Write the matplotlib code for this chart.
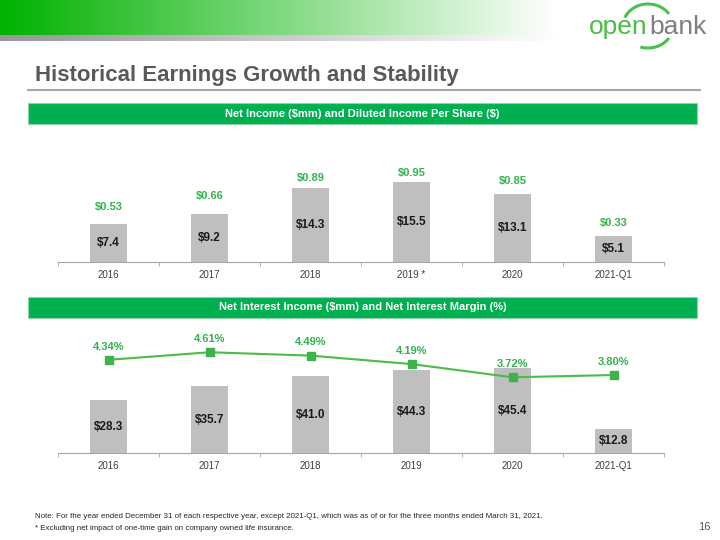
import numpy as np
import matplotlib
matplotlib.use('Agg')
import matplotlib.pyplot as plt
from matplotlib.patches import Rectangle, Arc

plt.rcParams['font.family'] = ['Liberation Sans', 'DejaVu Sans']

# data
years_ni = ['2016', '2017', '2018', '2019 *', '2020', '2021-Q1']
net_income = [7.4, 9.2, 14.3, 15.5, 13.1, 5.1]
eps = [0.53, 0.66, 0.89, 0.95, 0.85, 0.33]

years_nii = ['2016', '2017', '2018', '2019', '2020', '2021-Q1']
net_interest_income = [28.3, 35.7, 41.0, 44.3, 45.4, 12.8]
nim = [4.34, 4.61, 4.49, 4.19, 3.72, 3.80]

W, H = 720, 540
GREEN_HDR = '#00b050'
GREEN_TXT = '#33b34d'
BAR_GRAY = '#bfbfbf'


def px(x0, y0, x1, y1):
    # pixel box (top-left origin) -> figure fraction rect
    return [x0 / W, 1 - y1 / H, (x1 - x0) / W, (y1 - y0) / H]


fig = plt.figure(figsize=(7.2, 5.4), dpi=100)

# top banner gradient
ban = fig.add_axes(px(0, 0, 720, 41))
img = np.ones((41, 720, 3))
xs = np.arange(720)
t = np.clip(xs / 555.0, 0, 1)
green = np.array([0, 178, 0]) / 255.0
for c in range(3):
    img[:35, :, c] = green[c] * (1 - t) + t
tg = np.clip(xs / 560.0, 0, 1)
gray = np.array([150, 150, 150]) / 255.0
for c in range(3):
    img[35:, :, c] = gray[c] * (1 - tg) + tg
ban.imshow(img, aspect='auto', interpolation='bilinear')
ban.axis('off')

# logo
logo = fig.add_axes(px(570, 0, 720, 60))
logo.set_xlim(570, 720)
logo.set_ylim(60, 0)
logo.axis('off')
logo.add_patch(Arc((648, 26), 50, 44, theta1=200, theta2=330, color='#4cc04c', lw=2.2))
logo.add_patch(Arc((648, 26), 50, 44, theta1=30, theta2=110, color='#4cc04c', lw=2.2))
logo.text(648, 27, 'open', color='#4cbb47', fontsize=19, ha='right', va='center')
logo.text(649, 27, 'bank', color='#7f7f7f', fontsize=19, ha='left', va='center')

# title
fig.text(35 / W, 1 - 75 / H, 'Historical Earnings Growth and Stability', fontsize=16,
         fontweight='bold', color='#595959', va='center')
fig.add_artist(plt.Line2D([28 / W, 700 / W], [1 - 90 / H, 1 - 90 / H], color='#a6a6a6', lw=1.5))


def header(y0, y1, text):
    r = Rectangle((28 / W, 1 - y1 / H), 669 / W, (y1 - y0) / H, transform=fig.transFigure,
                  facecolor=GREEN_HDR, edgecolor='#8fd4a8', lw=0.8)
    fig.add_artist(r)
    fig.text((28 + 697) / 2 / W, 1 - (y0 + y1) / 2 / H, text, color='white', fontsize=8,
             fontweight='bold', ha='center', va='center', parse_math=False)


def base_axes(rect, labels, ymax):
    ax = fig.add_axes(rect)
    ax.set_xlim(-0.5, len(labels) - 0.5)
    ax.set_ylim(0, ymax)
    for s in ['top', 'right', 'left']:
        ax.spines[s].set_visible(False)
    ax.spines['bottom'].set_color('#a6a6a6')
    ax.set_yticks([])
    ax.set_xticks(np.arange(len(labels)))
    ax.set_xticklabels(labels, fontsize=7, color='#404040')
    ax.tick_params(axis='x', which='major', length=0, pad=6)
    ax.set_xticks(np.arange(len(labels) + 1) - 0.5, minor=True)
    ax.tick_params(axis='x', which='minor', length=3, color='#a6a6a6')
    ax.patch.set_alpha(0)
    return ax


# chart 1 : net income and EPS
header(103, 124, 'Net Income ($mm) and Diluted Income Per Share ($)')
ax1 = base_axes(px(58, 140, 664, 262), years_ni, 23.5)
x = np.arange(len(years_ni))
ax1.bar(x, net_income, width=0.36, color=BAR_GRAY)
for xi, v in zip(x, net_income):
    ax1.text(xi, v / 2, f'${v:.1f}', ha='center', va='center', fontsize=8.5,
             fontweight='bold', color='#1a1a1a')
ax1b = ax1.twinx()
ax1b.set_ylim(-0.154, 1.36)
ax1b.axis('off')
for xi, v in zip(x, eps):
    ax1b.text(xi, v, f'${v:.2f}', ha='center', va='center', fontsize=8,
              fontweight='bold', color=GREEN_TXT)

# chart 2 : net interest income and NIM
header(297, 318, 'Net Interest Income ($mm) and Net Interest Margin (%)')
ax2 = base_axes(px(58, 330, 664, 453), years_nii, 65.8)
x = np.arange(len(years_nii))
ax2.bar(x, net_interest_income, width=0.36, color=BAR_GRAY)
for xi, v in zip(x, net_interest_income):
    ax2.text(xi, v / 2, f'${v:.1f}', ha='center', va='center', fontsize=8.5,
             fontweight='bold', color='#1a1a1a')
ax2b = ax2.twinx()
ax2b.set_ylim(1.03, 5.40)
ax2b.axis('off')
ax2b.plot(x, nim, color='#4cbb47', lw=1.5, marker='s', markersize=6,
          markerfacecolor='#3cb44b', markeredgecolor='#3cb44b')
for xi, v in zip(x, nim):
    ax2b.annotate(f'{v:.2f}%', (xi, v), xytext=(0, 9.5), textcoords='offset points',
                  ha='center', va='center', fontsize=8, fontweight='bold', color=GREEN_TXT)

# footnotes
fig.text(35 / W, 1 - 517 / H,
         'Note: For the year ended December 31 of each respective year, except 2021-Q1, '
         'which was as of or for the three months ended March 31, 2021.',
         fontsize=5.7, color='#262626', va='center')
fig.text(35 / W, 1 - 528 / H,
         '* Excluding net impact of one-time gain on company owned life insurance.',
         fontsize=5.7, color='#262626', va='center')
fig.text(711 / W, 1 - 527 / H, '16', fontsize=8, color='#595959', ha='right', va='center')

fig.savefig('out.png', dpi=100)
